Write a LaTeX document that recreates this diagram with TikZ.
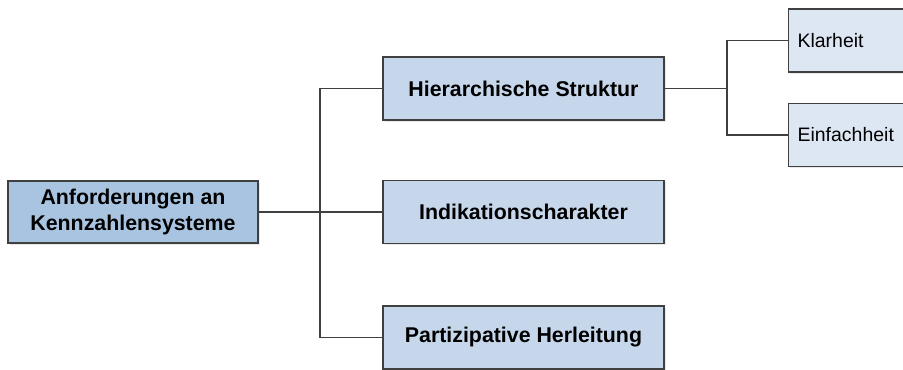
\documentclass[tikz,border=0pt]{standalone}
\usepackage{fontspec}
\setmainfont{Liberation Sans}
\usepackage{tikz}
\usetikzlibrary{shadows}

\tikzset{
  box/.style={draw=black!75, line width=0.9pt, fill=#1, font=\fontsize{16}{20}\selectfont\bfseries,
    align=center, drop shadow={shadow xshift=1.2pt, shadow yshift=-1.2pt, opacity=0.18}},
  rootbox/.style={box=rootblue, minimum width=187.5pt, minimum height=46.5pt},
  midbox/.style={box=midblue, minimum width=210.75pt, minimum height=47.25pt},
  leafbox/.style={box=leafblue, font=\fontsize{14.6}{18}\selectfont, text width=99pt,
    align=left, inner xsep=6.75pt, minimum height=47.25pt, anchor=west},
  line/.style={draw=black!75, line width=0.9pt}
}
\definecolor{rootblue}{HTML}{A9C4E1}
\definecolor{midblue}{HTML}{C6D7EB}
\definecolor{leafblue}{HTML}{DDE7F3}

\begin{document}
\begin{tikzpicture}[x=0.75pt,y=-0.75pt]
          \useasboundingbox (0,0) rectangle (903,370);
          \clip (0,0) rectangle (903,370);
          % boxes
          \node[rootbox] (anf) at (133,212) {Anforderungen an\\Kennzahlensysteme};
          \node[midbox] (hier) at (523.5,88.5) {Hierarchische Struktur};
          \node[midbox] (ind) at (523.5,212) {Indikationscharakter};
          \node[midbox] (part) at (523.5,337.5) {Partizipative Herleitung};
          \node[leafbox] (klar) at (788,40.5) {Klarheit};
          \node[leafbox] (einf) at (788,135) {Einfachheit};
          % connectors
          \coordinate (j1) at (320,212);
          \coordinate (j2) at (727,88.5);
          \draw[line] (anf.east) -- (ind.west);
          \draw[line] (hier.west) -| (j1) |- (part.west);
          \draw[line] (hier.east) -- (j2);
          \draw[line] (klar.west) -| (j2) |- (einf.west);
        \end{tikzpicture}
\end{document}
